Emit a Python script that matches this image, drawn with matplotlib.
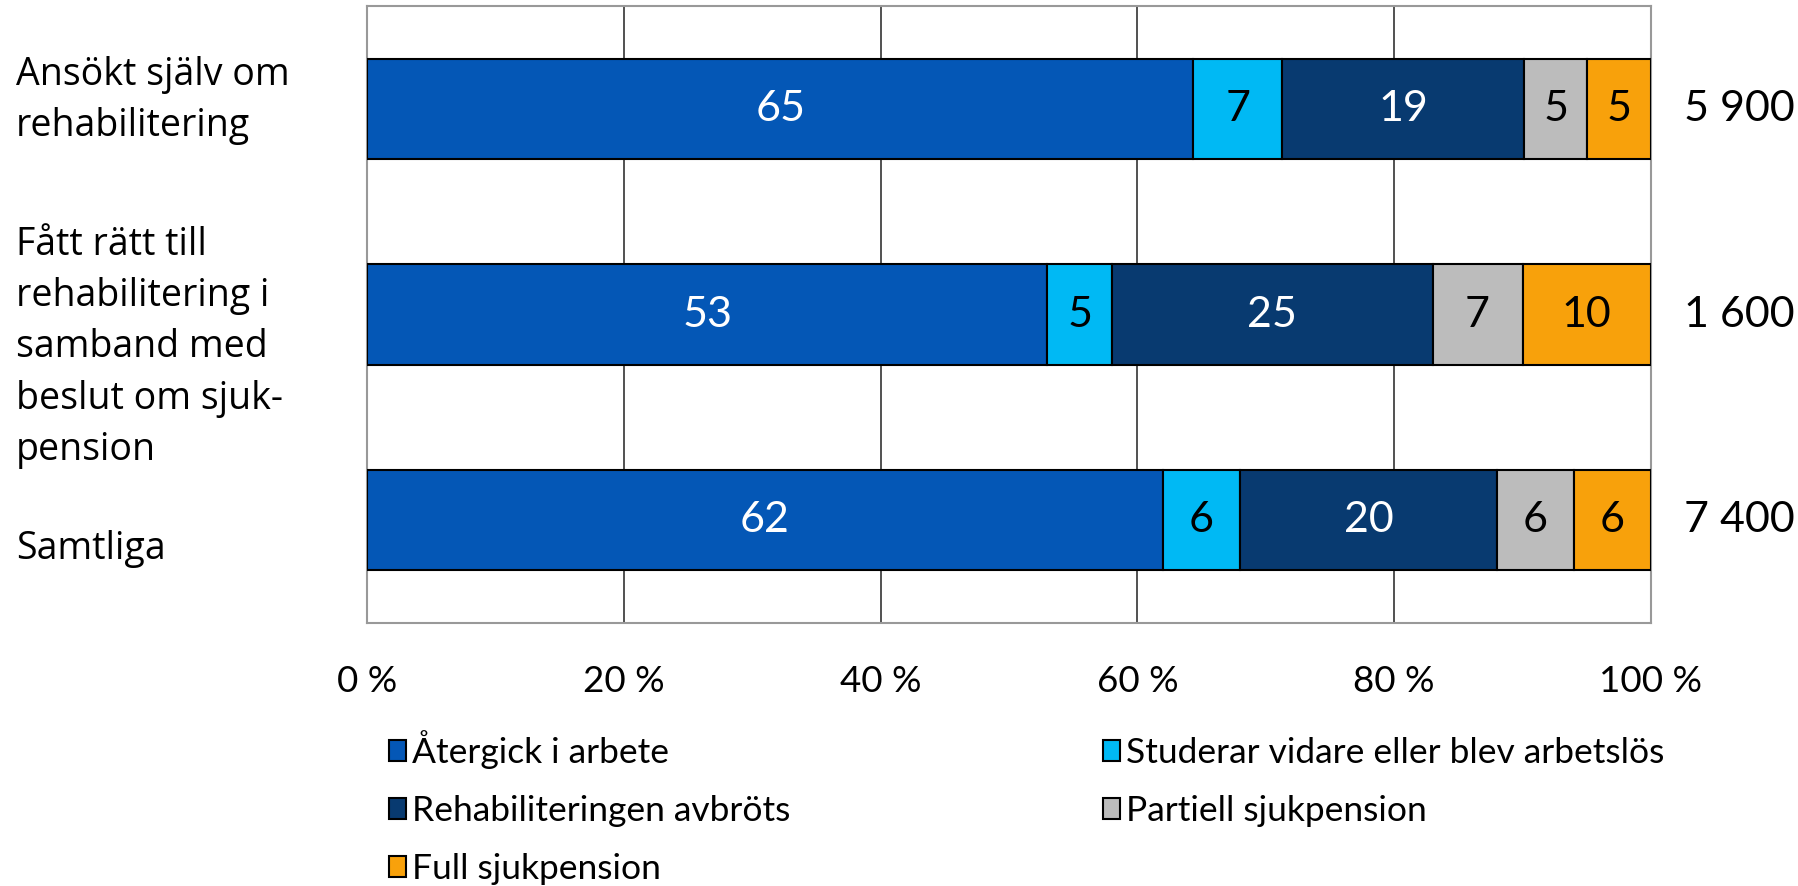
import numpy as np
import matplotlib.pyplot as plt
from matplotlib.patches import Patch
from matplotlib.transforms import blended_transform_factory

# categories (top to bottom)
categories = [
    "Ansökt själv om\nrehabilitering",
    "Fått rätt till\nrehabilitering i\nsamband med\nbeslut om sjuk-\npension",
    "Samtliga",
]
totals = ["5 900", "1 600", "7 400"]

series_names = [
    "Återgick i arbete",
    "Studerar vidare eller blev arbetslös",
    "Rehabiliteringen avbröts",
    "Partiell sjukpension",
    "Full sjukpension",
]
aterg = [65, 53, 62]
studerar = [7, 5, 6]
avbrots = [19, 25, 20]
partiell = [5, 7, 6]
full = [5, 10, 6]

colors = ["#0457B6", "#00B9F4", "#083A70", "#BCBCBC", "#F8A10B"]
text_colors = ["white", "black", "white", "black", "black"]

narrow = "Lato"
wide = "Open Sans"

values = np.array([aterg, studerar, avbrots, partiell, full], dtype=float)
shares = values / values.sum(axis=0) * 100  # 100 % stacked

fig = plt.figure(figsize=(17.99, 8.86), dpi=100, facecolor="white")
ax = fig.add_axes([0.204, 0.297, 0.7137, 0.696])

y = np.arange(len(categories))
left = np.zeros(len(categories))
handles = []
for i, name in enumerate(series_names):
    bars = ax.barh(y, shares[i], left=left, height=0.49, color=colors[i],
                   edgecolor="black", linewidth=1.5, zorder=3)
    for j, b in enumerate(bars):
        ax.text(left[j] + shares[i][j] / 2, y[j], f"{int(values[i][j])}",
                ha="center", va="center", color=text_colors[i],
                fontsize=31, family=narrow, zorder=4)
    left += shares[i]
    handles.append(Patch(facecolor=colors[i], edgecolor="black", linewidth=1.5, label=name))

ax.set_xlim(0, 100)
ax.set_ylim(-0.5, len(categories) - 0.5)
ax.invert_yaxis()
ax.set_xticks([0, 20, 40, 60, 80, 100])
ax.set_xticklabels(["0 %", "20 %", "40 %", "60 %", "80 %", "100 %"], fontsize=26.5, family=narrow)
ax.tick_params(axis="x", length=0, pad=30)
ax.set_yticks([])
ax.xaxis.grid(True, color="#222222", linewidth=1.1, zorder=0)
for s in ax.spines.values():
    s.set_color("#999999")
    s.set_linewidth(1.5)

# category labels on the left, totals on the right
tr_left = blended_transform_factory(fig.transFigure, ax.transData)
label_offsets = [-0.04, 0.16, 0.14]
for j, cat in enumerate(categories):
    ax.text(0.009, y[j] + label_offsets[j], cat, transform=tr_left, ha="left", va="center",
            fontsize=27, family=wide, linespacing=1.46)
    ax.text(1.026, y[j], totals[j], transform=blended_transform_factory(ax.transAxes, ax.transData),
            ha="left", va="center", fontsize=31, family=narrow)

leg_kw = dict(frameon=False, prop={"family": narrow, "size": 25.5},
              handlelength=0.5, handleheight=0.55, handletextpad=0.15,
              labelspacing=0.73, borderaxespad=0, borderpad=0)
fig.legend([handles[0], handles[2], handles[4]], [series_names[0], series_names[2], series_names[4]],
           loc="upper left", bbox_to_anchor=(0.216, 0.176), **leg_kw)
fig.legend([handles[1], handles[3]], [series_names[1], series_names[3]],
           loc="upper left", bbox_to_anchor=(0.613, 0.168), **leg_kw)

fig.savefig("out.png", dpi=100, facecolor="white")
